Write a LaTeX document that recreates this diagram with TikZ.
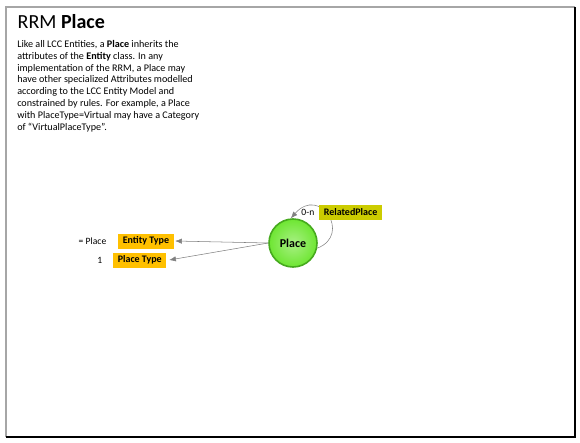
\documentclass[tikz,border=0pt]{standalone}
\usepackage{fontspec}
\setmainfont{Carlito}
\usetikzlibrary{arrows.meta}
\definecolor{attrorange}{RGB}{255,192,0}
\definecolor{relolive}{RGB}{204,204,0}
\definecolor{placegreen}{RGB}{110,230,50}
\definecolor{placerim}{RGB}{70,170,30}
\tikzset{
	attrbox/.style={fill=attrorange, font=\fontsize{7.5}{8}\selectfont\bfseries, inner xsep=3.4pt, inner ysep=2pt, minimum height=11.25pt},
	relbox/.style={fill=relolive, font=\fontsize{7.5}{8}\selectfont\bfseries, inner xsep=3.4pt, inner ysep=2pt, minimum height=11.25pt},
	lbl/.style={font=\fontsize{7.2}{8}\selectfont},
	link/.style={draw=gray, -{Latex[length=5pt, width=4pt]}},
}
\begin{document}
\begin{tikzpicture}[x=0.75pt, y=-0.75pt]
		\useasboundingbox (0,0) rectangle (580,442);
		% frame
		\draw[gray!70, line width=1.5pt] (6,437) -- (6,7) -- (575,7);
		\draw[black, line width=1.5pt] (575,7) -- (575,437) -- (6,437);
		% title and text
		\node[anchor=west, font=\fontsize{15}{17}\selectfont] (title) at (13,22) {RRM \textbf{Place}};
		\node[anchor=north west, align=left, inner sep=0pt, font=\fontsize{7.6}{8.9}\selectfont] (desc) at (17,40)
			{Like all LCC Entities, a \textbf{Place} inherits the\\
			attributes of the \textbf{Entity} class. In any\\
			implementation of the RRM, a Place may\\
			have other specialized Attributes modelled\\
			according to the LCC Entity Model and\\
			constrained by rules. For example, a Place\\
			with PlaceType=Virtual may have a Category\\
			of ``VirtualPlaceType''.};
		% entity
		\node[circle, minimum size=36pt, inner sep=0pt, draw=placerim, line width=1.2pt,
			inner color=placegreen!60!white, outer color=placegreen, font=\fontsize{9}{10}\selectfont\bfseries] (place) at (293,243) {Place};
		% self relation
		\draw[link] (place.-12) .. controls (352,235) and (320,185) .. (place.95);
		\node[relbox, anchor=west] (related) at (319,212.5) {RelatedPlace};
		\node[lbl, anchor=east] (relcard) at (319,212.5) {0-n};
		% attributes
		\node[attrbox, anchor=west] (enttype) at (118,241) {Entity Type};
		\node[lbl, anchor=east] (entval) at (111,241) {= Place};
		\node[attrbox, anchor=west] (placetype) at (113,260) {Place Type};
		\node[lbl, anchor=east] (placeval) at (107,260) {1};
		\draw[link] (place.west) -- ([xshift=1pt]enttype.east);
		\draw[link] (place.west) -- ([xshift=2pt]placetype.east);
	\end{tikzpicture}
\end{document}
